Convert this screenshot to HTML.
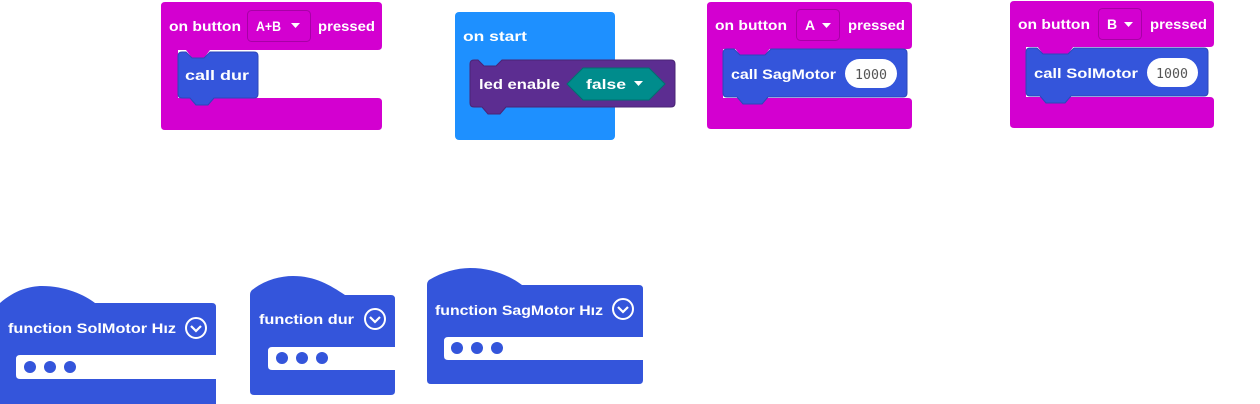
<!DOCTYPE html>
<html><head><meta charset="utf-8"><style>
html,body{margin:0;padding:0;background:#fff;}
svg{display:block}
text{font-family:"Liberation Sans",sans-serif;font-weight:bold;font-size:14px;fill:#fff}
</style></head><body>
<svg width="1260" height="404" viewBox="0 0 1260 404" xmlns="http://www.w3.org/2000/svg">
<!-- Block A+B -->
<path d="M165,2 H378 Q382,2 382,6 V46 Q382,50 378,50 H178 V98 H378 Q382,98 382,102 V126 Q382,130 378,130 H165 Q161,130 161,126 V6 Q161,2 165,2 Z" fill="#d300d0"/>
<path d="M186,50 L192,58 H204 L210,50 Z" fill="#d300d0"/>
<text x="169" y="31" textLength="72" lengthAdjust="spacingAndGlyphs">on button</text>
<rect x="247.5" y="10.5" width="63" height="31" rx="4" fill="#d300d0" stroke="#a800a6"/>
<text x="256" y="31" textLength="25" lengthAdjust="spacingAndGlyphs">A+B</text>
<path d="M291,23 h9 l-4.5,5 z" fill="#fff"/>
<text x="318" y="31" textLength="57" lengthAdjust="spacingAndGlyphs">pressed</text>
<path d="M182,52 H186 L192,58 H204 L210,52 H254 Q258,52 258,56 V94 Q258,98 254,98 H214 L208,105 H196 L190,98 H182 Q178,98 178,94 V56 Q178,52 182,52 Z" fill="#3455db" stroke="#2c47b8"/>
<text x="185" y="80" textLength="64" lengthAdjust="spacingAndGlyphs">call dur</text>

<!-- on start -->
<rect x="455" y="12" width="160" height="128" rx="4" fill="#1e90ff"/>
<text x="463" y="41" textLength="64" lengthAdjust="spacingAndGlyphs">on start</text>
<path d="M474,60 H478 L484,66 H496 L502,60 H671 Q675,60 675,64 V103 Q675,107 671,107 H506 L500,114 H488 L482,107 H474 Q470,107 470,103 V64 Q470,60 474,60 Z" fill="#5c2d91" stroke="#4a2475"/>
<text x="479" y="89" textLength="81" lengthAdjust="spacingAndGlyphs">led enable</text>
<path d="M567,84 L583,68 H649 L665,84 L649,100 H583 Z" fill="#008c8c" stroke="#007070"/>
<text x="586" y="89" textLength="40" lengthAdjust="spacingAndGlyphs">false</text>
<path d="M634,81 h9 l-4.5,5 z" fill="#fff"/>

<!-- Block A -->
<path d="M711,2 H908 Q912,2 912,6 V45 Q912,49 908,49 H723 V98 H908 Q912,98 912,102 V125 Q912,129 908,129 H711 Q707,129 707,125 V6 Q707,2 711,2 Z" fill="#d300d0"/>
<path d="M734,47 L740,55 H765 L771,47 Z" fill="#d300d0"/>
<text x="715" y="30" textLength="72" lengthAdjust="spacingAndGlyphs">on button</text>
<rect x="796.5" y="9.5" width="43" height="31" rx="4" fill="#d300d0" stroke="#a800a6"/>
<text x="805" y="30">A</text>
<path d="M822,23 h9 l-4.5,5 z" fill="#fff"/>
<text x="848" y="30" textLength="57" lengthAdjust="spacingAndGlyphs">pressed</text>
<path d="M727,49 H734 L740,55 H765 L771,49 H903 Q907,49 907,53 V93 Q907,97 903,97 H768 L762,104 H743 L737,97 H727 Q723,97 723,93 V53 Q723,49 727,49 Z" fill="#3455db" stroke="#2c47b8"/>
<text x="731" y="79" textLength="105" lengthAdjust="spacingAndGlyphs">call SagMotor</text>
<rect x="845" y="59" width="52" height="29" rx="14.5" fill="#fff"/>
<text x="855" y="79" style="font-weight:normal;fill:#555;font-family:'DejaVu Sans Mono','Liberation Mono',monospace;font-size:13px" textLength="32" lengthAdjust="spacingAndGlyphs">1000</text>

<!-- Block B -->
<path d="M1014,1 H1210 Q1214,1 1214,5 V43 Q1214,47 1210,47 H1026 V97 H1210 Q1214,97 1214,101 V124 Q1214,128 1210,128 H1014 Q1010,128 1010,124 V5 Q1010,1 1014,1 Z" fill="#d300d0"/>
<path d="M1037,46 L1043,54 H1068 L1074,46 Z" fill="#d300d0"/>
<text x="1018" y="29" textLength="72" lengthAdjust="spacingAndGlyphs">on button</text>
<rect x="1098.5" y="8.5" width="43" height="31" rx="4" fill="#d300d0" stroke="#a800a6"/>
<text x="1107" y="29">B</text>
<path d="M1124,22 h9 l-4.5,5 z" fill="#fff"/>
<text x="1150" y="29" textLength="57" lengthAdjust="spacingAndGlyphs">pressed</text>
<path d="M1030,48 H1037 L1043,54 H1068 L1074,48 H1204 Q1208,48 1208,52 V92 Q1208,96 1204,96 H1071 L1065,103 H1046 L1040,96 H1030 Q1026,96 1026,92 V52 Q1026,48 1030,48 Z" fill="#3455db" stroke="#2c47b8"/>
<text x="1034" y="78" textLength="104" lengthAdjust="spacingAndGlyphs">call SolMotor</text>
<rect x="1147" y="58" width="51" height="29" rx="14.5" fill="#fff"/>
<text x="1156" y="78" style="font-weight:normal;fill:#555;font-family:'DejaVu Sans Mono','Liberation Mono',monospace;font-size:13px" textLength="32" lengthAdjust="spacingAndGlyphs">1000</text>

<!-- function SolMotor -->
<path d="M0,303 C15,290 30,286 42,286 C65,286 85,295 95,303 H212 Q216,303 216,307 V355 H20 Q16,355 16,359 V375 Q16,379 20,379 H216 V404 H0 Z" fill="#3455db"/>
<text x="8" y="333" textLength="168" lengthAdjust="spacingAndGlyphs">function SolMotor Hız</text>
<circle cx="196" cy="328" r="10" fill="none" stroke="#fff" stroke-width="2"/>
<path d="M191,326 l5,5 l5,-5" fill="none" stroke="#fff" stroke-width="2.2"/>
<circle cx="30" cy="367" r="6" fill="#3455db"/><circle cx="50" cy="367" r="6" fill="#3455db"/><circle cx="70" cy="367" r="6" fill="#3455db"/>

<!-- function dur -->
<path d="M250,295 Q250,292 252,290 C265,280 280,276 293,276 C315,276 330,285 345,295 H391 Q395,295 395,299 V347 H272 Q268,347 268,351 V366 Q268,370 272,370 H395 V391 Q395,395 391,395 H254 Q250,395 250,391 Z" fill="#3455db"/>
<text x="259" y="324" textLength="95" lengthAdjust="spacingAndGlyphs">function dur</text>
<circle cx="375" cy="319" r="10" fill="none" stroke="#fff" stroke-width="2"/>
<path d="M370,317 l5,5 l5,-5" fill="none" stroke="#fff" stroke-width="2.2"/>
<circle cx="282" cy="358" r="6" fill="#3455db"/><circle cx="302" cy="358" r="6" fill="#3455db"/><circle cx="322" cy="358" r="6" fill="#3455db"/>

<!-- function SagMotor -->
<path d="M427,285 Q427,282 429,280 C442,272 457,268 470,268 C492,268 510,276 522,285 H639 Q643,285 643,289 V337 H448 Q444,337 444,341 V356 Q444,360 448,360 H643 V380 Q643,384 639,384 H431 Q427,384 427,380 Z" fill="#3455db"/>
<text x="435" y="315" textLength="168" lengthAdjust="spacingAndGlyphs">function SagMotor Hız</text>
<circle cx="623" cy="309" r="10" fill="none" stroke="#fff" stroke-width="2"/>
<path d="M618,307 l5,5 l5,-5" fill="none" stroke="#fff" stroke-width="2.2"/>
<circle cx="457" cy="348" r="6" fill="#3455db"/><circle cx="477" cy="348" r="6" fill="#3455db"/><circle cx="497" cy="348" r="6" fill="#3455db"/>
</svg>
</body></html>
